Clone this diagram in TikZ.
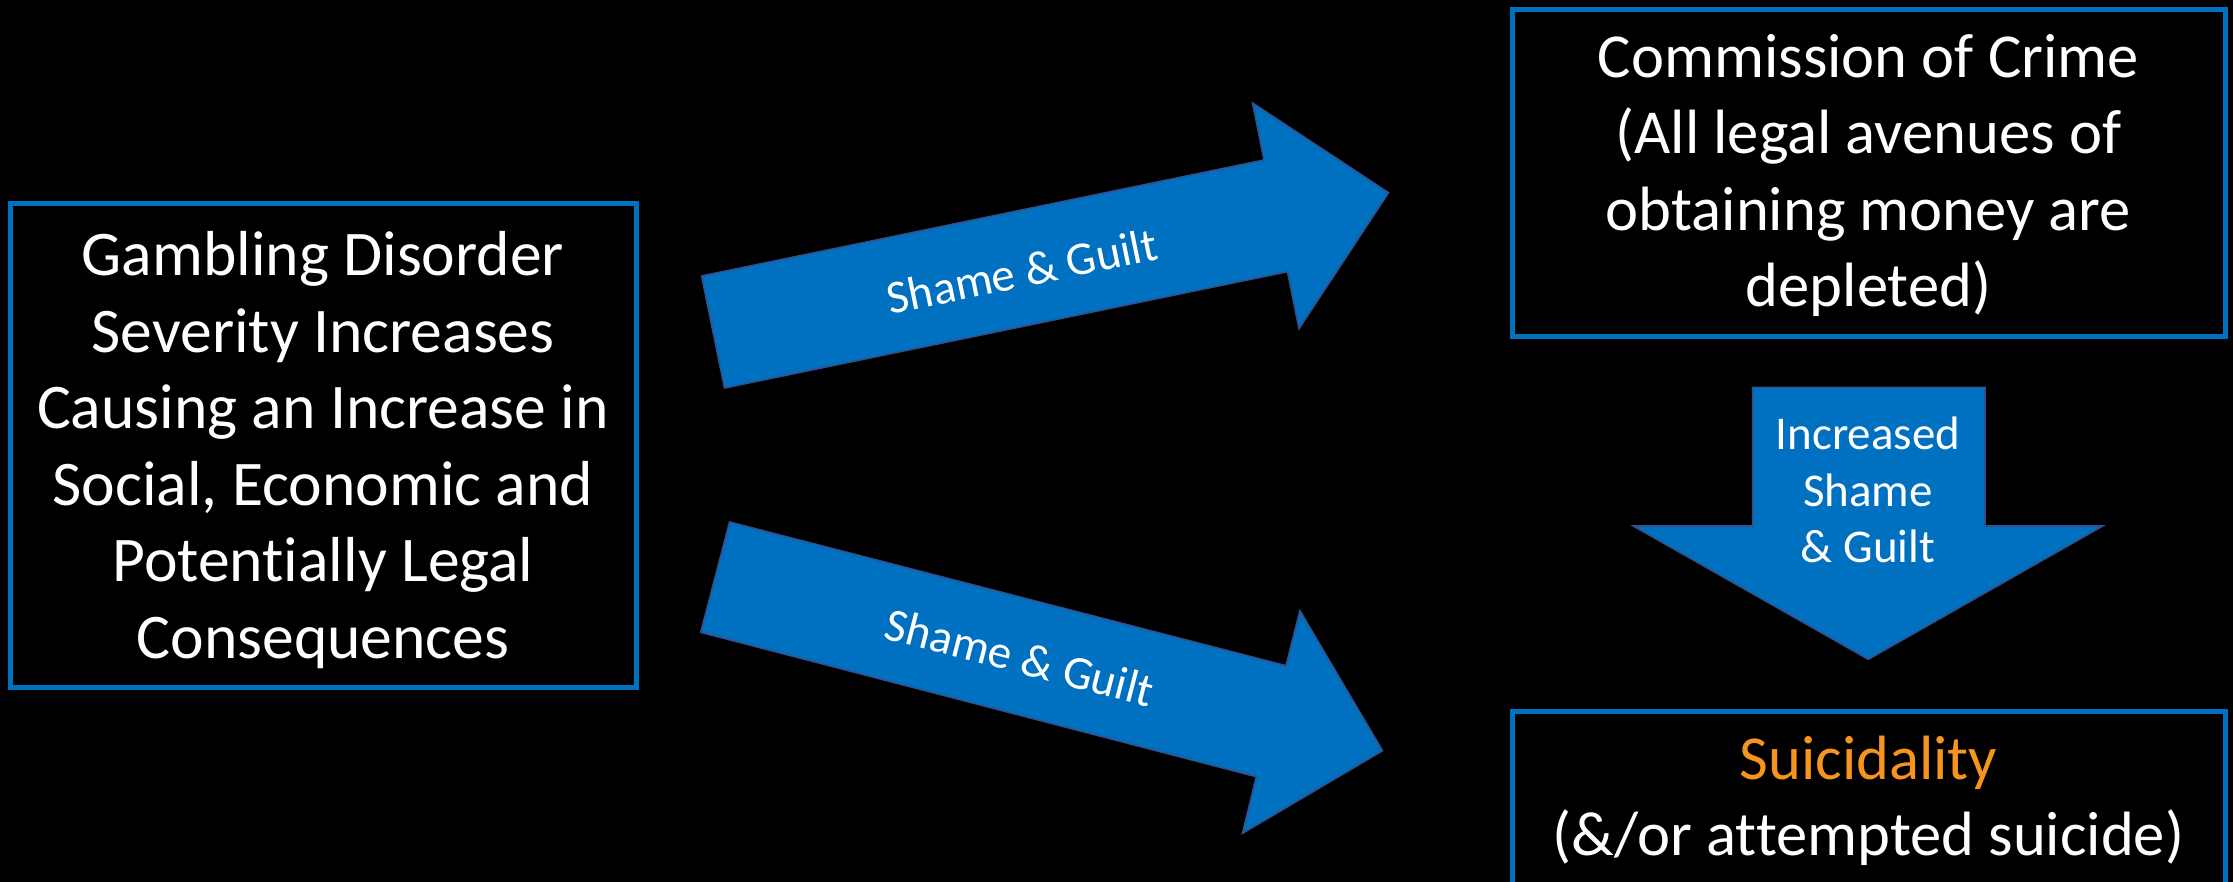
\documentclass[tikz,border=0pt]{standalone}
\usepackage{fontspec}
\setmainfont{Carlito}[Ligatures=NoCommon]
\usepackage{xcolor}
\usepackage{tikz}

\definecolor{boxblue}{HTML}{0070C0}
\definecolor{arrowedge}{HTML}{2F528F}
\definecolor{suiorange}{HTML}{F7941D}

\begin{document}
\begin{tikzpicture}[x=0.5pt,y=-0.5pt,
    textbox/.style={draw=boxblue, line width=2.5pt, text=white, align=center,
        font=\fontsize{31.3}{38.3}\selectfont, inner sep=0pt},
    blockarrow/.style={fill=boxblue, draw=arrowedge, line width=0.8pt, line join=miter},
    arrowlabel/.style={text=white, align=center, inner sep=0pt,
        font=\fontsize{23.5}{28.3}\selectfont}]

            \fill[black] (0,0) rectangle (2233,882);
            \clip (0,0) rectangle (2233,882);

            \node[textbox, minimum width=313pt, minimum height=241.5pt, text depth=0.5pt,
                font=\fontsize{31.8}{38.3}\selectfont] (disorder) at (323,445.5)
                {Gambling Disorder\\Severity Increases\\Causing an Increase in\\Social, Economic and\\Potentially Legal\\Consequences};
            \node[textbox, minimum width=356.5pt, minimum height=163.5pt, text depth=3pt] (crime) at (1868.5,173.5)
                {Commission of Crime\\(All legal avenues of\\obtaining money are\\depleted)};
            \node[textbox, minimum width=356.5pt, minimum height=90pt] (suicide) at (1868.5,801)
                {{\color{suiorange}Suicidality}\\(\&/or attempted suicide)};

            \draw[blockarrow] (701.6,276) -- (1264,160) -- (1252.6,103) -- (1388.5,192.7)
                -- (1299,328.7) -- (1287.5,271.7) -- (724.5,388) -- cycle;
            \node[arrowlabel, rotate=11.65] (shameTop) at (1022,271) {Shame \& Guilt};

            \draw[blockarrow] (729.6,522) -- (1286,665.7) -- (1299.9,610.7) -- (1382.5,750.7)
                -- (1242.5,833.3) -- (1256.3,776.7) -- (700.7,632.3) -- cycle;
            \node[arrowlabel, rotate=-14.5] (shameBottom) at (1020,657) {Shame \& Guilt};

            \draw[blockarrow] (1752.7,387.3) -- (1985,387.3) -- (1985,526) -- (2102.7,526)
                -- (1868.3,659.3) -- (1633.3,526) -- (1752.7,526) -- cycle;
            \node[arrowlabel] (shameDown) at (1868,490) {Increased\\Shame\\\& Guilt};

\end{tikzpicture}
\end{document}
